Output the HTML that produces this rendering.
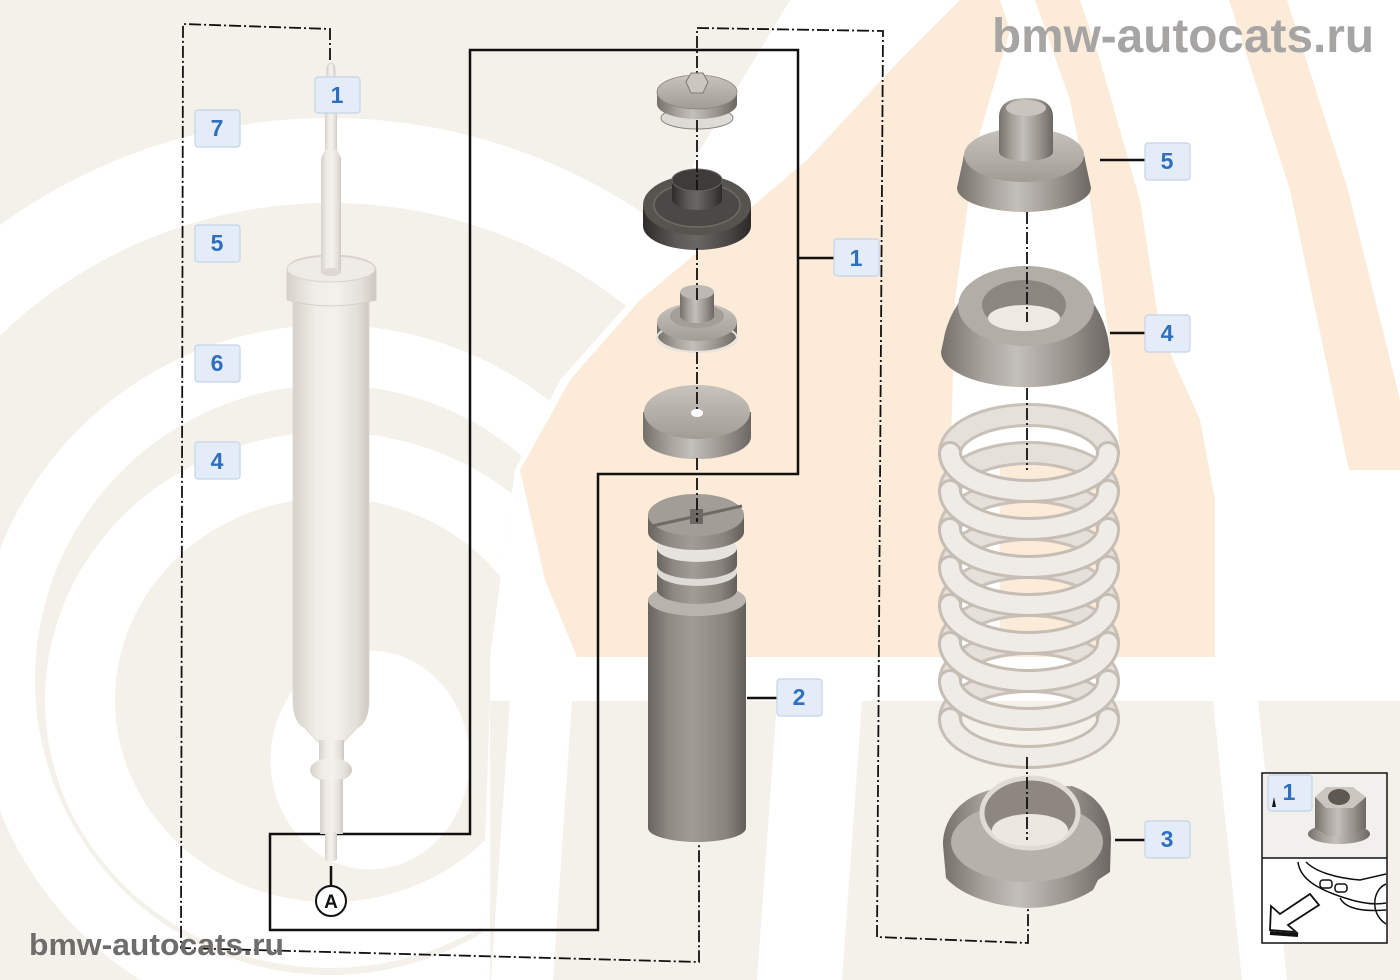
<!DOCTYPE html>
<html><head><meta charset="utf-8"><style>
html,body{margin:0;padding:0;background:#fff;width:1400px;height:980px;overflow:hidden;}
#wrap{position:relative;width:1400px;height:980px;overflow:hidden;background:#fff;}
.bg{position:absolute;left:0;top:0;width:1400px;height:980px;}
#leftlogo{
 clip-path:polygon(0px 0px,790px 0px,700px 150px,640px 290px,560px 380px,515px 470px,490px 657px,490px 701px,480px 980px,0px 980px);
 background:
  radial-gradient(100px 110px at 370px 760px, #fff 99%, rgba(255,255,255,0) 100%),
  radial-gradient(250px 235px at 330px 700px, rgba(255,255,255,0) 86%, #fff 86%, #fff 114%, rgba(255,255,255,0) 114%),
  radial-gradient(circle 355px at 330px 680px, rgba(255,255,255,0) 295px, #fff 295px, #fff 355px, rgba(255,255,255,0) 355px),
  radial-gradient(circle 562px at 330px 680px, rgba(255,255,255,0) 477px, #fff 477px, #fff 562px, rgba(255,255,255,0) 562px),
  #f4f1eb;
}
.peach{background:#fcebd8;}
.beige{background:#f4f1eb;}
.white{background:#fff;}
#p1{clip-path:polygon(577px 657px,945px 657px,955px 300px,975px 150px,1010px 30px,1000px 0px,960px 0px,900px 60px,807px 160px,760px 200px,700px 250px,640px 300px,570px 380px,520px 470px,545px 580px);}
#p2{clip-path:polygon(1120px 657px,1215px 657px,1215px 500px,1200px 420px,1160px 330px,1140px 200px,1100px 60px,1080px 0px,1035px 0px,1070px 100px,1090px 200px,1108px 330px,1120px 450px);}
#p3{clip-path:polygon(1000px 460px,1120px 460px,1120px 657px,1000px 657px);}
#p4{clip-path:polygon(1229px 0px,1287px 0px,1348px 190px,1400px 400px,1400px 470px,1349px 470px,1290px 190px);}
#b1{clip-path:polygon(490px 701px,1400px 701px,1400px 980px,490px 980px);}
#w1{clip-path:polygon(510px 701px,572px 701px,553px 980px,491px 980px);}
#w2{clip-path:polygon(777px 701px,862px 701px,842px 980px,757px 980px);}
#w3{clip-path:polygon(1213px 701px,1258px 701px,1287px 980px,1242px 980px);}
svg{position:absolute;left:0;top:0;display:block;}
</style></head><body>
<div id="wrap">
<div class="bg" id="leftlogo"></div>
<div class="bg peach" id="p1"></div>
<div class="bg peach" id="p2"></div>
<div class="bg peach" id="p3"></div>
<div class="bg peach" id="p4"></div>
<div class="bg beige" id="b1"></div>
<div class="bg white" id="w1"></div>
<div class="bg white" id="w2"></div>
<div class="bg white" id="w3"></div>

<svg width="1400" height="980" viewBox="0 0 1400 980" xmlns="http://www.w3.org/2000/svg">
<defs>
 <linearGradient id="gShock" x1="0" x2="1" y1="0" y2="0">
  <stop offset="0" stop-color="#d6d1ca"/><stop offset=".3" stop-color="#f0ede8"/><stop offset=".55" stop-color="#f4f1ed"/><stop offset=".85" stop-color="#e2ded8"/><stop offset="1" stop-color="#cdc7bf"/>
 </linearGradient>
 <linearGradient id="gGray" x1="0" x2="1" y1="0" y2="0">
  <stop offset="0" stop-color="#75706a"/><stop offset=".25" stop-color="#a8a39d"/><stop offset=".45" stop-color="#c3bfba"/><stop offset=".75" stop-color="#98938d"/><stop offset="1" stop-color="#6c6762"/>
 </linearGradient>
 <linearGradient id="gTop" x1="0" y1="0" x2="0" y2="1">
  <stop offset="0" stop-color="#c8c3bd"/><stop offset="1" stop-color="#a29c95"/>
 </linearGradient>
 <linearGradient id="gDark" x1="0" x2="1" y1="0" y2="0">
  <stop offset="0" stop-color="#2e2c2a"/><stop offset=".3" stop-color="#5b5855"/><stop offset=".5" stop-color="#696663"/><stop offset=".8" stop-color="#484543"/><stop offset="1" stop-color="#2b2928"/>
 </linearGradient>
 <linearGradient id="gBump" x1="0" x2="1" y1="0" y2="0">
  <stop offset="0" stop-color="#67635e"/><stop offset=".2" stop-color="#8d8882"/><stop offset=".45" stop-color="#a19c96"/><stop offset=".8" stop-color="#88837d"/><stop offset="1" stop-color="#625e59"/>
 </linearGradient>
</defs>

<!-- dash-dot outlines -->
<g fill="none" stroke="#111" stroke-width="1.8" stroke-dasharray="12 3 2 3">
 <polyline points="330,60 330,29 183,24 181,948 699,962 699,845"/>
 <polyline points="697,88 697,28 883,31 877,937 1028,943 1028,905"/>
</g>

<!-- solid frame -->
<polygon points="470,50 798,50 798,474 598,474 598,930 270,930 270,834 470,834" fill="none" stroke="#111" stroke-width="2.5"/>
<g stroke="#111" stroke-width="2.5">
 <line x1="798" y1="258" x2="835" y2="258"/>
 <line x1="1100" y1="160" x2="1146" y2="160"/>
 <line x1="1110" y1="333" x2="1146" y2="333"/>
 <line x1="747" y1="698" x2="778" y2="698"/>
 <line x1="1115" y1="840" x2="1146" y2="840"/>
 <line x1="331" y1="866" x2="331" y2="886"/>
</g>

<!-- shock absorber -->
<g>
 <path d="M327,80 L327,67 Q331,59 335,67 L335,80 Z" fill="url(#gShock)" stroke="#d3cdc5" stroke-width=".8"/>
 <rect x="325" y="110" width="12" height="44" fill="url(#gShock)"/>
 <path d="M293,298 L293,700 Q293,722 305,728 L318,742 L344,742 L357,728 Q369,722 369,700 L369,298 Z" fill="url(#gShock)" stroke="#dcd6ce" stroke-width=".8"/>
 <path d="M287,270 Q288,256 331,255 Q374,256 376,270 L376,300 Q331,312 287,300 Z" fill="url(#gShock)" stroke="#d6d0c8" stroke-width="1"/>
 <ellipse cx="331" cy="269" rx="44" ry="13" fill="#efebe6" stroke="#d9d3cb" stroke-width="1"/>
 <path d="M325,150 L321,158 L321,272 L341,272 L341,158 L337,150 Z" fill="url(#gShock)"/>
 <ellipse cx="331" cy="272" rx="10" ry="4" fill="#ddd8d1"/>
 <rect x="319" y="740" width="25" height="22" fill="url(#gShock)"/>
 <ellipse cx="331" cy="770" rx="21" ry="12" fill="url(#gShock)"/>
 <rect x="320" y="779" width="23" height="55" fill="url(#gShock)"/>
 <rect x="325" y="832" width="12" height="29" rx="3" fill="url(#gShock)"/>
</g>

<!-- middle column -->
<ellipse cx="697" cy="118" rx="36" ry="11" fill="#dedad5" stroke="#8a857f" stroke-width="1"/>
<path d="M657,92 L657,104 A40,15 0 0 0 737,104 L737,92 Z" fill="url(#gGray)"/>
<ellipse cx="697" cy="92" rx="40" ry="17" fill="url(#gTop)" stroke="#8b857e" stroke-width=".8"/>
<path d="M686,82 L691,73 L703,73 L708,82 L703,93 L691,93 Z" fill="#cbc6c0" stroke="#7e7972" stroke-width="1"/>

<path d="M643,205 L643,226 A54,24 0 0 0 751,226 L751,205 Z" fill="url(#gDark)"/>
<ellipse cx="697" cy="205" rx="54" ry="30" fill="#57544f"/>
<ellipse cx="697" cy="205" rx="43" ry="22" fill="#4b4845" stroke="#6e6a66" stroke-width="1.5"/>
<path d="M672,180 L672,199 A25,11 0 0 0 722,199 L722,180 Z" fill="url(#gDark)"/>
<ellipse cx="697" cy="180" rx="25" ry="11" fill="#3e3c3a" stroke="#6a6662" stroke-width="1"/>

<path d="M657,322 L657,334 A40,17 0 0 0 737,334 L737,322 Z" fill="url(#gGray)"/>
<ellipse cx="697" cy="338" rx="40" ry="14" fill="none" stroke="#e6e2dd" stroke-width="2"/>
<ellipse cx="697" cy="322" rx="40" ry="19" fill="url(#gTop)"/>
<ellipse cx="697" cy="316" rx="27" ry="12" fill="#a39e98"/>
<path d="M680,292 L680,316 A17,7 0 0 0 714,316 L714,292 Z" fill="url(#gGray)"/>
<ellipse cx="697" cy="292" rx="17" ry="7" fill="#bdb8b2"/>

<path d="M643,412 L643,437 A54,22 0 0 0 751,437 L751,412 Z" fill="url(#gGray)"/>
<ellipse cx="697" cy="412" rx="53" ry="27" fill="url(#gTop)"/>
<ellipse cx="697" cy="413" rx="6" ry="4" fill="#fff"/>

<path d="M648,600 L648,828 A49,14 0 0 0 746,828 L746,600 Z" fill="url(#gBump)"/>
<ellipse cx="697" cy="600" rx="49" ry="16" fill="#b8b3ad"/>
<path d="M657,572 L657,590 A40,14 0 0 0 737,590 L737,572 Z" fill="url(#gBump)"/>
<ellipse cx="697" cy="572" rx="40" ry="14" fill="#dedad6"/>
<path d="M657,548 L657,565 A40,14 0 0 0 737,565 L737,548 Z" fill="url(#gBump)"/>
<ellipse cx="697" cy="548" rx="40" ry="14" fill="#e6e3df"/>
<path d="M648,515 L648,532 A48,18 0 0 0 744,532 L744,515 Z" fill="url(#gBump)"/>
<ellipse cx="696" cy="515" rx="48" ry="21" fill="#a29d97"/>
<path d="M652,526 L742,506" stroke="#6f6a64" stroke-width="3"/>
<rect x="690" y="509" width="13" height="15" fill="#6d6863"/>

<!-- right column -->
<path d="M957,188 L963,160 A61,26 0 0 1 1085,160 L1091,188 A67,24 0 0 1 957,188 Z" fill="url(#gGray)"/>
<ellipse cx="1024" cy="155" rx="60" ry="27" fill="url(#gTop)"/>
<path d="M999,152 L999,116 Q1000,98 1026,98 Q1052,98 1053,116 L1053,152 A27,9 0 0 1 999,152 Z" fill="url(#gGray)"/>
<ellipse cx="1026" cy="108" rx="20" ry="8" fill="#c9c4be"/>

<path d="M941,352 L944,338 C952,298 985,266 1026,266 C1067,266 1100,298 1108,338 L1110,352 A84,35 0 0 1 941,352 Z" fill="url(#gGray)"/>
<ellipse cx="1026" cy="306" rx="68" ry="40" fill="#b2ada7"/>
<ellipse cx="1024" cy="305" rx="42" ry="25" fill="#8c8680"/>
<ellipse cx="1024" cy="318" rx="36" ry="13" fill="#eee9e3"/>

<!-- spring -->
<g fill="none" stroke-linecap="round">
 <g stroke="#c9c1b7" stroke-width="24">
  <path d="M950,453 A79,38 0 0 1 1108,453"/><path d="M950,491 A79,38 0 0 1 1108,491"/><path d="M950,529 A79,38 0 0 1 1108,529"/><path d="M950,567 A79,38 0 0 1 1108,567"/><path d="M950,605 A79,38 0 0 1 1108,605"/><path d="M950,643 A79,38 0 0 1 1108,643"/><path d="M950,681 A79,38 0 0 1 1108,681"/><path d="M950,719 A79,38 0 0 1 1108,719"/>
 </g>
 <g stroke="#e5e0d9" stroke-width="18">
  <path d="M950,453 A79,38 0 0 1 1108,453"/><path d="M950,491 A79,38 0 0 1 1108,491"/><path d="M950,529 A79,38 0 0 1 1108,529"/><path d="M950,567 A79,38 0 0 1 1108,567"/><path d="M950,605 A79,38 0 0 1 1108,605"/><path d="M950,643 A79,38 0 0 1 1108,643"/><path d="M950,681 A79,38 0 0 1 1108,681"/><path d="M950,719 A79,38 0 0 1 1108,719"/>
 </g>
 <g stroke="#c6beb4" stroke-width="24">
  <path d="M950,453 A79,38 0 0 0 1108,453"/><path d="M950,491 A79,38 0 0 0 1108,491"/><path d="M950,529 A79,38 0 0 0 1108,529"/><path d="M950,567 A79,38 0 0 0 1108,567"/><path d="M950,605 A79,38 0 0 0 1108,605"/><path d="M950,643 A79,38 0 0 0 1108,643"/><path d="M950,681 A79,38 0 0 0 1108,681"/><path d="M950,719 A79,38 0 0 0 1108,719"/>
 </g>
 <g stroke="#efebe6" stroke-width="18">
  <path d="M950,453 A79,38 0 0 0 1108,453"/><path d="M950,491 A79,38 0 0 0 1108,491"/><path d="M950,529 A79,38 0 0 0 1108,529"/><path d="M950,567 A79,38 0 0 0 1108,567"/><path d="M950,605 A79,38 0 0 0 1108,605"/><path d="M950,643 A79,38 0 0 0 1108,643"/><path d="M950,681 A79,38 0 0 0 1108,681"/><path d="M950,719 A79,38 0 0 0 1108,719"/>
 </g>
</g>

<!-- part 3 -->
<path d="M943,845 C943,818 962,797 990,790 L1072,786 C1098,795 1111,815 1111,838 L1110,872 L1098,880 L1093,890 C1075,902 1050,908 1027,908 C990,906 960,894 946,878 Z" fill="url(#gGray)"/>
<ellipse cx="1027" cy="842" rx="76" ry="40" fill="#b6b1ab"/>
<ellipse cx="1030" cy="813" rx="48" ry="35" fill="#8d8780" stroke="#e0dbd5" stroke-width="5"/>
<ellipse cx="1030" cy="830" rx="38" ry="16" fill="#ece7e1"/>

<!-- axis dash-dot segments -->
<g stroke="#111" stroke-width="1.8" stroke-dasharray="12 3 2 3">
 <line x1="697" y1="120" x2="697" y2="190"/>
 <line x1="697" y1="248" x2="697" y2="300"/>
 <line x1="697" y1="352" x2="697" y2="412"/>
 <line x1="697" y1="458" x2="697" y2="522"/>
 <line x1="1027" y1="212" x2="1027" y2="322"/>
 <line x1="1027" y1="388" x2="1027" y2="470"/>
 <line x1="1027" y1="757" x2="1027" y2="840"/>
</g>

<!-- circle A -->
<circle cx="331" cy="901" r="15" fill="#fff" stroke="#111" stroke-width="2"/>
<text x="331" y="908" font-family="Liberation Sans, sans-serif" font-weight="bold" font-size="19" text-anchor="middle" fill="#111">A</text>

<!-- inset -->
<rect x="1262" y="773" width="125" height="170" fill="#fff" stroke="#111" stroke-width="1.5"/>
<rect x="1263" y="774" width="123" height="84" fill="#f2f0ed"/>
<line x1="1262" y1="858" x2="1387" y2="858" stroke="#111" stroke-width="1.5"/>
<ellipse cx="1339" cy="834" rx="31" ry="10" fill="url(#gGray)"/>
<polygon points="1315,797 1315,828 1328,836 1352,836 1366,828 1366,797" fill="url(#gGray)"/>
<polygon points="1315,797 1326,787 1353,787 1366,797 1353,808 1326,808" fill="#cbc6c0"/>
<ellipse cx="1339" cy="797" rx="11" ry="8" fill="#5d5852"/>
<g fill="none" stroke="#111" stroke-width="1.5">
 <path d="M1298,862 C1300,880 1320,890 1345,898 C1360,903 1375,905 1386,903"/>
 <path d="M1306,862 C1316,872 1336,878 1360,880 L1386,874"/>
 <rect x="1320" y="880" width="12" height="8" rx="3"/>
 <rect x="1335" y="884" width="12" height="8" rx="3"/>
 <path d="M1386,884 C1372,890 1370,914 1386,924"/>
 <path d="M1340,898 C1345,908 1360,912 1386,910"/>
</g>
<polygon points="1270,930 1271,906 1280,914 1310,894 1319,905 1288,925 1296,932" fill="#fff" stroke="#111" stroke-width="1.8"/>
<path d="M1270,933 L1298,935" stroke="#111" stroke-width="4"/>

<!-- labels -->
<g fill="#e3ecf7" stroke="#c3d4e8" stroke-width="1.2">
 <rect x="315" y="77" width="45" height="36" rx="3"/>
 <rect x="195" y="110" width="45" height="37" rx="3"/>
 <rect x="195" y="225" width="45" height="37" rx="3"/>
 <rect x="195" y="345" width="45" height="37" rx="3"/>
 <rect x="195" y="442" width="45" height="37" rx="3"/>
 <rect x="834" y="239" width="45" height="37" rx="3"/>
 <rect x="1145" y="143" width="45" height="37" rx="3"/>
 <rect x="1145" y="315" width="45" height="37" rx="3"/>
 <rect x="777" y="679" width="45" height="37" rx="3"/>
 <rect x="1145" y="821" width="45" height="37" rx="3"/>
 <rect x="1268" y="775" width="44" height="36" rx="3"/>
</g>
<polygon points="1272,807 1274,797 1276,807" fill="#111"/>
<g font-family="Liberation Sans, sans-serif" font-weight="bold" font-size="23" fill="#2f6fbe" text-anchor="middle">
 <text x="337" y="103">1</text>
 <text x="217" y="136">7</text>
 <text x="217" y="251">5</text>
 <text x="217" y="371">6</text>
 <text x="217" y="469">4</text>
 <text x="856" y="266">1</text>
 <text x="1167" y="169">5</text>
 <text x="1167" y="341">4</text>
 <text x="799" y="705">2</text>
 <text x="1167" y="847">3</text>
 <text x="1289" y="800">1</text>
</g>

<!-- watermark texts -->
<text x="992" y="52" font-family="Liberation Sans, sans-serif" font-weight="bold" font-size="48" fill="#a7a5a3" textLength="382" lengthAdjust="spacingAndGlyphs">bmw-autocats.ru</text>
<text x="29" y="955" font-family="Liberation Sans, sans-serif" font-weight="bold" font-size="31" fill="#6f6d6b" textLength="255" lengthAdjust="spacingAndGlyphs">bmw-autocats.ru</text>
</svg>
</div>
</body></html>
